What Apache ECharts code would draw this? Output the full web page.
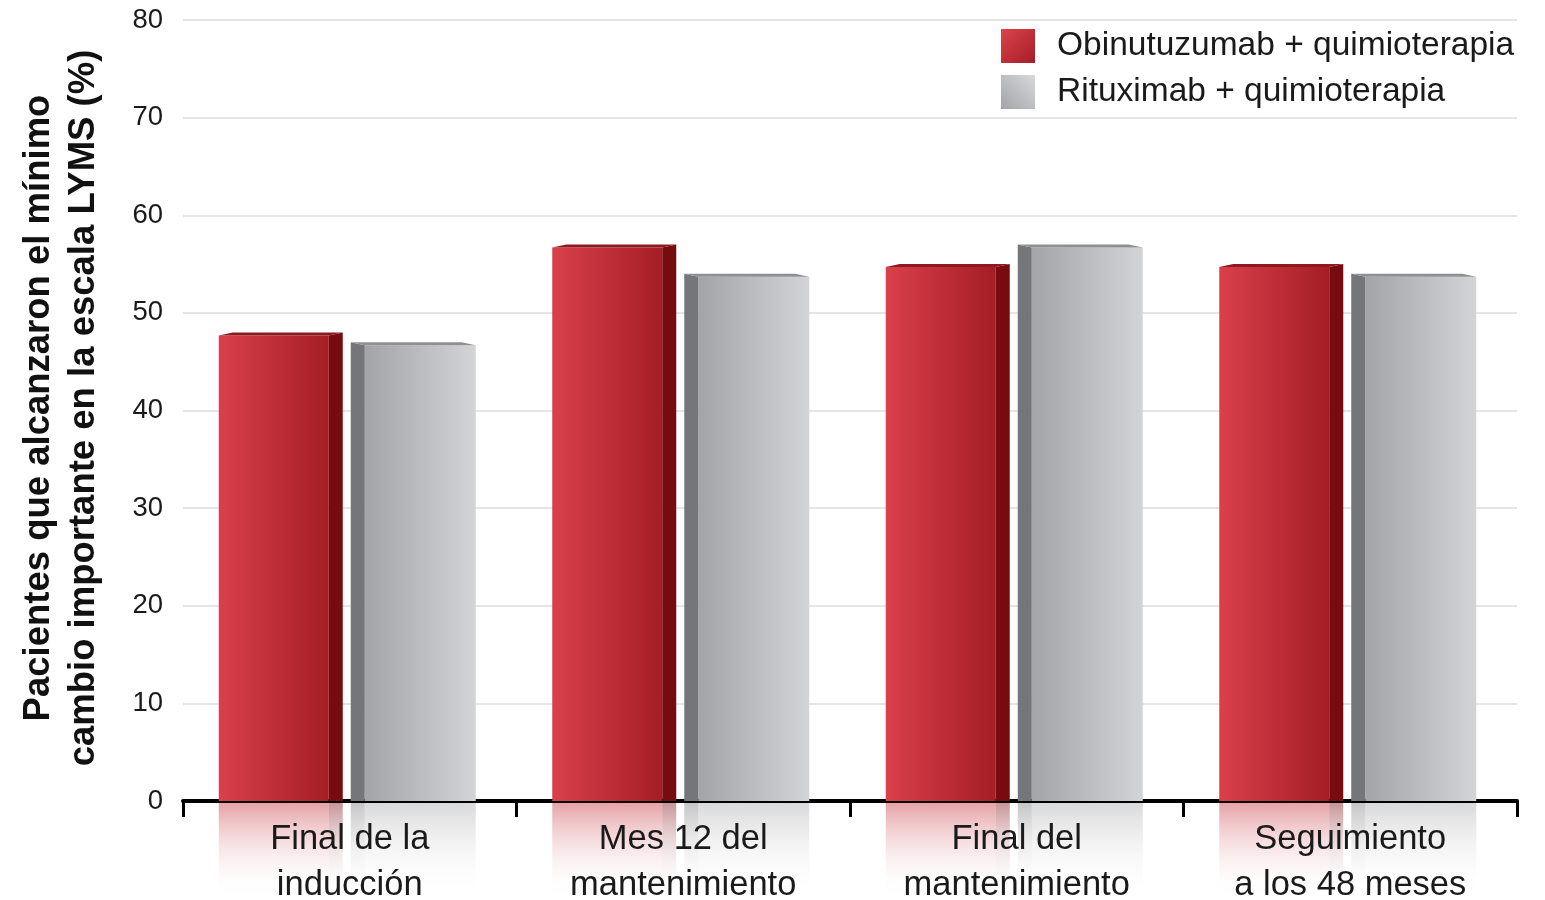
<!DOCTYPE html>
<html>
<head>
<meta charset="utf-8">
<script src="https://cdn.jsdelivr.net/npm/echarts@6/dist/echarts.min.js"></script>
<style>
html,body{margin:0;padding:0;background:#ffffff;}
#chart{width:1545px;height:900px;}
</style>
</head>
<body>
<div id="chart"></div>
<script>
const categories = ['Final de la\ninducción', 'Mes 12 del\nmantenimiento', 'Final del\nmantenimiento', 'Seguimiento\na los 48 meses'];
const obinutuzumab = [48, 57, 55, 55];
const rituximab = [47, 54, 57, 54];
const seriesNames = ['Obinutuzumab + quimioterapia', 'Rituximab + quimioterapia'];
const yTitle = 'Pacientes que alcanzaron el mínimo\ncambio importante en la escala LYMS (%)';
const yMin = 0, yMax = 80, yInterval = 10;

const FONT = '"Liberation Sans", Arial, sans-serif';
const G = echarts.graphic;

function hGrad(c0, c1) {
  return new G.LinearGradient(0, 0, 1, 0, [{offset: 0, color: c0}, {offset: 1, color: c1}]);
}
function vGrad(c0, c1) {
  return new G.LinearGradient(0, 0, 0, 1, [{offset: 0, color: c0}, {offset: 1, color: c1}]);
}

const STYLE = [
  {front: ['#d9404a', '#a51d26'], side: '#760b10', top: '#8e1a20',
   refl: ['rgba(205,70,80,0.50)', 'rgba(255,255,255,0)'], reflSide: ['rgba(130,20,28,0.45)', 'rgba(255,255,255,0)']},
  {front: ['#a3a4a8', '#d3d4d6'], side: '#75767a', top: '#8e8f93',
   refl: ['rgba(170,171,175,0.45)', 'rgba(255,255,255,0)'], reflSide: ['rgba(110,111,115,0.40)', 'rgba(255,255,255,0)']}
];

function geom(kind, api) {
  const idx = api.value(0), v = api.value(1);
  const base = api.coord([idx, 0]);
  const top = api.coord([idx, v]);
  const bw = api.size([1, 0])[0];
  const s = bw / 333.5;
  const cx = base[0];
  let g = {y0: base[1], yb: top[1], yf: top[1] + 3, s: s};
  if (kind === 0) {
    g.fl = cx - 131 * s; g.fr = cx - 21 * s; g.sl = g.fr; g.sr = cx - 7 * s;
  } else {
    g.sl = cx + 1 * s; g.sr = cx + 15 * s; g.fl = g.sr; g.fr = cx + 126 * s;
  }
  return g;
}

function barRender(kind) {
  return function (params, api) {
    const g = geom(kind, api);
    const st = STYLE[kind];
    const d = 14 * g.s;
    const children = [];
    children.push({type: 'rect', shape: {x: g.fl, y: g.yf, width: g.fr - g.fl, height: g.y0 - g.yf},
      style: {fill: hGrad(st.front[0], st.front[1])}});
    if (kind === 0) {
      children.push({type: 'polygon', shape: {points: [[g.sl, g.yf], [g.sr, g.yb], [g.sr, g.y0], [g.sl, g.y0]]},
        style: {fill: st.side}});
      children.push({type: 'polygon', shape: {points: [[g.fl, g.yf], [g.fr, g.yf], [g.sr, g.yb], [g.fl + d, g.yb]]},
        style: {fill: st.top}});
    } else {
      children.push({type: 'polygon', shape: {points: [[g.sl, g.yb], [g.sr, g.yf], [g.sr, g.y0], [g.sl, g.y0]]},
        style: {fill: st.side}});
      children.push({type: 'polygon', shape: {points: [[g.fl, g.yf], [g.fr, g.yf], [g.fr - d, g.yb], [g.sl, g.yb]]},
        style: {fill: st.top}});
    }
    return {type: 'group', children: children};
  };
}

function reflRender(kind) {
  return function (params, api) {
    const g = geom(kind, api);
    const st = STYLE[kind];
    const h = 95;
    const yy = g.y0 + 2;
    return {type: 'group', children: [
      {type: 'rect', shape: {x: g.fl, y: yy, width: g.fr - g.fl, height: h},
        style: {fill: vGrad(st.refl[0], st.refl[1])}},
      {type: 'rect', shape: {x: g.sl, y: yy, width: g.sr - g.sl, height: h},
        style: {fill: vGrad(st.reflSide[0], st.reflSide[1])}}
    ]};
  };
}

const dataA = obinutuzumab.map((v, i) => [i, v]);
const dataB = rituximab.map((v, i) => [i, v]);

const chart = echarts.init(document.getElementById('chart'), null, {renderer: 'canvas'});
chart.setOption({
  backgroundColor: '#ffffff',
  animation: false,
  grid: {left: 183, right: 28, top: 20, bottom: 99, containLabel: false, outerBoundsMode: 'none'},
  legend: {
    orient: 'vertical', left: 1001, top: 29, itemWidth: 34, itemHeight: 34, itemGap: 12, padding: 0,
    icon: 'rect',
    textStyle: {fontFamily: FONT, fontSize: 33.5, color: '#1a1a1a', padding: [0, 0, 0, 17]},
    data: [
      {name: seriesNames[0], itemStyle: {color: new G.LinearGradient(0, 0, 1, 1, [{offset: 0, color: '#dc434c'}, {offset: 1, color: '#a51d26'}])}},
      {name: seriesNames[1], itemStyle: {color: new G.LinearGradient(1, 0, 0, 1, [{offset: 0, color: '#d8d9da'}, {offset: 1, color: '#a3a4a8'}])}}
    ]
  },
  xAxis: {
    type: 'category', data: categories, z: 2,
    boundaryGap: true,
    axisLine: {lineStyle: {color: '#000', width: 4}},
    axisTick: {show: true, length: 16, lineStyle: {color: '#000', width: 3}},
    axisLabel: {fontFamily: FONT, fontSize: 34.5, color: '#1a1a1a', lineHeight: 46, margin: 15, interval: 0},
    splitLine: {show: false}
  },
  yAxis: {
    type: 'value', min: yMin, max: yMax, interval: yInterval, z: 0,
    axisLine: {show: false}, axisTick: {show: false},
    axisLabel: {fontFamily: FONT, fontSize: 27.5, color: '#1a1a1a', margin: 20},
    splitLine: {lineStyle: {color: '#dcdcdc', width: 1.5}}
  },
  graphic: [{
    type: 'text', x: 61, y: 408, rotation: Math.PI / 2,
    style: {text: yTitle, fontFamily: FONT, fontWeight: 'bold', fontSize: 36.5, lineHeight: 45,
      fill: '#111', textAlign: 'center', textVerticalAlign: 'middle'}
  }],
  series: [
    {type: 'custom', name: 'reflA', z: 1, silent: true, clip: false, renderItem: reflRender(0), data: dataA, encode: {x: 0, y: 1}},
    {type: 'custom', name: 'reflB', z: 1, silent: true, clip: false, renderItem: reflRender(1), data: dataB, encode: {x: 0, y: 1}},
    {type: 'custom', name: seriesNames[0], z: 3, clip: false, renderItem: barRender(0), data: dataA, encode: {x: 0, y: 1},
      itemStyle: {color: '#c0303a'}},
    {type: 'custom', name: seriesNames[1], z: 3, clip: false, renderItem: barRender(1), data: dataB, encode: {x: 0, y: 1},
      itemStyle: {color: '#b9babd'}}
  ]
});
</script>
</body>
</html>
